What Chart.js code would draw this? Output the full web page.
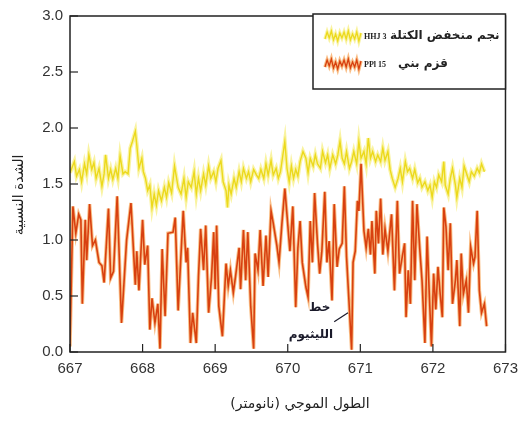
<!DOCTYPE html>
<html>
<head>
<meta charset="utf-8">
<script src="https://cdn.jsdelivr.net/npm/chart.js@4.4.1/dist/chart.umd.min.js"></script>
<style>
  html, body { margin: 0; padding: 0; background: #fff; }
  #wrap { width: 526px; height: 421px; }
</style>
</head>
<body>
<div id="wrap"><canvas id="spectrum" width="526" height="421"></canvas></div>
<script>
// wavelength (nm) / relative intensity
const starWl = [667.00, 667.06, 667.09, 667.13, 667.16, 667.20, 667.23, 667.26, 667.30, 667.33, 667.36, 667.40, 667.44, 667.47, 667.49, 667.53, 667.56, 667.59, 667.63, 667.66, 667.69, 667.73, 667.76, 667.80, 667.83, 667.86, 667.90, 667.92, 667.95, 667.99, 668.01, 668.04, 668.07, 668.10, 668.13, 668.16, 668.19, 668.22, 668.26, 668.30, 668.33, 668.36, 668.40, 668.44, 668.49, 668.53, 668.57, 668.60, 668.63, 668.67, 668.71, 668.74, 668.77, 668.80, 668.84, 668.87, 668.91, 668.94, 668.98, 669.01, 669.04, 669.08, 669.11, 669.15, 669.17, 669.19, 669.22, 669.26, 669.29, 669.33, 669.36, 669.39, 669.43, 669.46, 669.49, 669.53, 669.57, 669.60, 669.63, 669.67, 669.70, 669.73, 669.77, 669.80, 669.84, 669.87, 669.90, 669.94, 669.96, 669.99, 670.02, 670.05, 670.08, 670.11, 670.14, 670.17, 670.21, 670.25, 670.28, 670.31, 670.35, 670.38, 670.41, 670.45, 670.48, 670.52, 670.55, 670.58, 670.62, 670.66, 670.69, 670.72, 670.75, 670.78, 670.81, 670.85, 670.88, 670.91, 670.95, 670.98, 671.01, 671.05, 671.08, 671.11, 671.14, 671.17, 671.21, 671.24, 671.28, 671.31, 671.34, 671.38, 671.41, 671.44, 671.48, 671.52, 671.55, 671.58, 671.62, 671.65, 671.68, 671.72, 671.75, 671.79, 671.82, 671.85, 671.89, 671.93, 671.96, 671.99, 672.02, 672.05, 672.08, 672.12, 672.15, 672.17, 672.21, 672.24, 672.27, 672.31, 672.33, 672.37, 672.40, 672.43, 672.47, 672.50, 672.53, 672.57, 672.61, 672.64, 672.67, 672.71]
const starVals = [1.60, 1.70, 1.57, 1.63, 1.52, 1.68, 1.59, 1.76, 1.63, 1.69, 1.55, 1.64, 1.48, 1.59, 1.76, 1.55, 1.63, 1.54, 1.64, 1.55, 1.75, 1.59, 1.61, 1.59, 1.82, 1.88, 1.97, 1.85, 1.64, 1.73, 1.61, 1.55, 1.44, 1.49, 1.29, 1.41, 1.31, 1.44, 1.35, 1.47, 1.38, 1.51, 1.42, 1.66, 1.47, 1.41, 1.55, 1.38, 1.52, 1.47, 1.61, 1.41, 1.55, 1.44, 1.59, 1.49, 1.66, 1.55, 1.61, 1.52, 1.64, 1.71, 1.52, 1.44, 1.29, 1.49, 1.41, 1.55, 1.47, 1.61, 1.52, 1.64, 1.55, 1.61, 1.52, 1.63, 1.58, 1.55, 1.63, 1.55, 1.68, 1.58, 1.71, 1.58, 1.64, 1.55, 1.61, 1.79, 1.88, 1.64, 1.52, 1.66, 1.55, 1.63, 1.57, 1.70, 1.79, 1.73, 1.60, 1.73, 1.66, 1.76, 1.68, 1.64, 1.79, 1.69, 1.76, 1.64, 1.76, 1.68, 1.76, 1.88, 1.73, 1.68, 1.79, 1.64, 1.70, 1.79, 1.68, 1.88, 1.73, 1.79, 1.68, 1.91, 1.73, 1.79, 1.70, 1.76, 1.70, 1.82, 1.71, 1.79, 1.63, 1.55, 1.47, 1.55, 1.64, 1.52, 1.70, 1.61, 1.64, 1.55, 1.63, 1.51, 1.55, 1.47, 1.52, 1.44, 1.49, 1.38, 1.52, 1.47, 1.58, 1.52, 1.70, 1.49, 1.41, 1.55, 1.64, 1.49, 1.38, 1.55, 1.47, 1.66, 1.58, 1.52, 1.61, 1.57, 1.64, 1.60, 1.68, 1.61]

const dwarfWl = [667.00, 667.04, 667.08, 667.12, 667.15, 667.17, 667.21, 667.23, 667.27, 667.31, 667.35, 667.40, 667.44, 667.47, 667.53, 667.56, 667.60, 667.65, 667.71, 667.78, 667.84, 667.90, 667.92, 667.95, 668.00, 668.03, 668.07, 668.10, 668.13, 668.17, 668.21, 668.24, 668.27, 668.31, 668.35, 668.42, 668.45, 668.49, 668.56, 668.60, 668.62, 668.66, 668.69, 668.74, 668.77, 668.80, 668.84, 668.87, 668.91, 668.95, 668.98, 669.00, 669.02, 669.05, 669.10, 669.15, 669.18, 669.21, 669.25, 669.28, 669.33, 669.35, 669.39, 669.42, 669.45, 669.49, 669.53, 669.55, 669.59, 669.62, 669.66, 669.70, 669.73, 669.77, 669.80, 669.85, 669.88, 669.92, 669.96, 670.03, 670.07, 670.11, 670.14, 670.17, 670.20, 670.25, 670.28, 670.31, 670.34, 670.37, 670.41, 670.44, 670.47, 670.51, 670.54, 670.57, 670.61, 670.64, 670.68, 670.71, 670.75, 670.78, 670.81, 670.85, 670.88, 670.90, 670.93, 670.96, 670.98, 671.01, 671.05, 671.08, 671.11, 671.14, 671.16, 671.20, 671.22, 671.25, 671.28, 671.31, 671.34, 671.38, 671.43, 671.47, 671.51, 671.54, 671.57, 671.61, 671.63, 671.66, 671.69, 671.72, 671.75, 671.78, 671.82, 671.85, 671.89, 671.92, 671.95, 671.98, 672.01, 672.04, 672.07, 672.10, 672.13, 672.15, 672.18, 672.21, 672.24, 672.27, 672.31, 672.33, 672.37, 672.39, 672.42, 672.46, 672.49, 672.52, 672.56, 672.58, 672.61, 672.64, 672.67, 672.71, 672.74]
const dwarfVals = [0.05, 1.30, 1.06, 1.23, 1.18, 0.43, 1.18, 0.82, 1.32, 0.95, 1.00, 0.80, 0.77, 0.62, 1.28, 0.66, 0.72, 1.39, 0.26, 1.00, 1.33, 0.60, 0.90, 0.55, 1.18, 0.78, 0.95, 0.20, 0.48, 0.26, 0.43, 0.03, 0.92, 0.32, 1.06, 1.07, 1.20, 0.37, 1.26, 0.80, 0.93, 0.08, 0.35, 0.08, 0.67, 1.10, 0.73, 1.13, 0.35, 0.67, 1.07, 0.56, 1.13, 0.41, 0.14, 0.79, 0.59, 0.73, 0.53, 0.67, 0.93, 0.56, 1.09, 0.64, 1.07, 0.41, 0.03, 0.88, 0.73, 1.09, 0.59, 1.04, 0.67, 1.26, 1.15, 0.95, 0.80, 1.15, 1.46, 0.90, 1.30, 0.40, 0.93, 1.17, 0.80, 0.58, 0.49, 1.17, 0.80, 1.42, 0.97, 0.70, 0.90, 1.43, 0.80, 0.99, 0.46, 1.32, 0.76, 0.92, 0.97, 1.48, 0.85, 0.38, 0.02, 0.80, 0.90, 1.35, 1.26, 1.68, 1.08, 0.93, 1.10, 0.87, 1.17, 0.70, 1.26, 0.97, 1.37, 0.87, 1.10, 0.90, 1.23, 0.55, 1.35, 0.70, 0.82, 0.97, 0.31, 0.73, 0.43, 1.35, 0.64, 1.32, 0.91, 0.64, 0.08, 1.03, 0.52, 0.05, 0.70, 0.38, 0.76, 0.52, 0.31, 1.29, 1.12, 0.73, 1.15, 0.43, 0.64, 0.82, 0.23, 0.88, 0.52, 0.64, 0.35, 0.94, 0.79, 0.85, 1.26, 0.55, 0.35, 0.43, 0.23]

const xTicks = [667, 668, 669, 670, 671, 672, 673]
const yTicks = [0, 0.5, 1, 1.5, 2, 2.5, 3]

const seriesNames = ['نجم منخفض الكتلة', 'قزم بني']
const seriesIds = ['HHJ 3', 'PPl 15']
const xTitle = 'الطول الموجي (نانومتر)'
const yTitle = 'الشدة النسبية'
const lineLabel = ['خط', 'الليثيوم']

const yellow = '#ecd91c'
const yellowGlow = 'rgba(246,236,110,0.65)'
const orange = '#d8400f'
const orangeGlow = 'rgba(245,145,50,0.6)'
const arabicFont = '"DejaVu Sans", sans-serif'

const toPoints = (wl, vals) => wl.map((w, i) => ({ x: w, y: vals[i] }))
const starPts = toPoints(starWl, starVals)
const dwarfPts = toPoints(dwarfWl, dwarfVals)

function wiggle(ctx, x0, x1, yc, color, glow) {
    const amp = [3, -4, 2, -5, 4, -2, 5, -3, 2, -4, 3, -5, 4, -2, 3, -4, 5, -3]
    const step = (x1 - x0) / (amp.length - 1)
    ;[[glow, 3.5], [color, 1.3]].forEach(([c, w]) => {
        ctx.strokeStyle = c
        ctx.lineWidth = w
        ctx.beginPath()
        amp.forEach((a, i) => {
            const x = x0 + i * step
            if (i === 0) ctx.moveTo(x, yc + a)
            else ctx.lineTo(x, yc + a)
        })
        ctx.stroke()
    })
}

const decorations = {
    id: 'decorations',
    afterDraw(chart) {
        const { ctx, chartArea: a, scales } = chart
        ctx.save()
        ctx.strokeStyle = '#222'
        ctx.lineWidth = 1.5
        ctx.strokeRect(a.left, a.top, a.right - a.left, a.bottom - a.top)

        // inward tick marks
        ctx.lineWidth = 1.2
        xTicks.forEach(v => {
            const x = scales.x.getPixelForValue(v)
            ctx.beginPath(); ctx.moveTo(x, a.bottom); ctx.lineTo(x, a.bottom - 8); ctx.stroke()
        })
        yTicks.forEach(v => {
            const y = scales.y.getPixelForValue(v)
            ctx.beginPath(); ctx.moveTo(a.left, y); ctx.lineTo(a.left + 8, y); ctx.stroke()
        })

        // axis titles
        ctx.fillStyle = '#222'
        ctx.textAlign = 'center'
        ctx.textBaseline = 'middle'
        ctx.font = '14px ' + arabicFont
        ctx.fillText(xTitle, 300, 404)
        ctx.save()
        ctx.translate(19, 195)
        ctx.rotate(-Math.PI / 2)
        ctx.fillText(yTitle, 0, 0)
        ctx.restore()

        // legend box
        ctx.fillStyle = '#fff'
        ctx.fillRect(313, 14, a.right - 313, 75)
        ctx.strokeStyle = '#222'
        ctx.lineWidth = 1.5
        ctx.strokeRect(313, 14, a.right - 313, 75)
        wiggle(ctx, 325, 361, 36, yellow, yellowGlow)
        wiggle(ctx, 325, 361, 64, orange, orangeGlow)
        ctx.fillStyle = '#222'
        ctx.textAlign = 'left'
        ctx.font = 'bold 8px "Liberation Serif", serif'
        ctx.fillText(seriesIds[0], 364, 37)
        ctx.fillText(seriesIds[1], 364, 65)
        ctx.font = 'bold 12px ' + arabicFont
        ctx.fillText(seriesNames[0], 390, 36)
        ctx.fillText(seriesNames[1], 398, 64)

        // lithium line note
        ctx.fillStyle = '#1a1a2a'
        ctx.textAlign = 'center'
        ctx.font = 'bold 12px ' + arabicFont
        ctx.fillText(lineLabel[0], scales.x.getPixelForValue(670.44), scales.y.getPixelForValue(0.39))
        ctx.fillText(lineLabel[1], scales.x.getPixelForValue(670.32), scales.y.getPixelForValue(0.15))
        ctx.strokeStyle = '#1a1a2a'
        ctx.lineWidth = 1.2
        ctx.beginPath()
        ctx.moveTo(scales.x.getPixelForValue(670.64), scales.y.getPixelForValue(0.27))
        ctx.lineTo(scales.x.getPixelForValue(670.83), scales.y.getPixelForValue(0.35))
        ctx.stroke()
        ctx.restore()
    }
}

new Chart(document.getElementById('spectrum').getContext('2d'), {
    type: 'line',
    data: {
        datasets: [
            { data: starPts, borderColor: yellowGlow, borderWidth: 4, order: 4 },
            { data: starPts, borderColor: yellow, borderWidth: 1.4, order: 3 },
            { data: dwarfPts, borderColor: orangeGlow, borderWidth: 3.5, order: 2 },
            { data: dwarfPts, borderColor: orange, borderWidth: 1.6, order: 1 }
        ]
    },
    options: {
        responsive: false,
        animation: false,
        layout: { padding: { left: 0, right: 16, top: 14, bottom: 0 } },
        elements: { point: { radius: 0 }, line: { tension: 0 } },
        plugins: { legend: { display: false }, tooltip: { enabled: false } },
        scales: {
            x: {
                type: 'linear',
                min: 667,
                max: 673,
                afterFit: s => { s.height = 69 },
                afterBuildTicks: s => { s.ticks = xTicks.map(v => ({ value: v })) },
                grid: { display: false, drawTicks: false },
                border: { display: false },
                ticks: { padding: 8, color: '#333', font: { family: '"Liberation Sans", Arial', size: 15 } }
            },
            y: {
                min: 0,
                max: 3,
                afterFit: s => { s.width = 70 },
                afterBuildTicks: s => { s.ticks = yTicks.map(v => ({ value: v })) },
                grid: { display: false, drawTicks: false },
                border: { display: false },
                ticks: {
                    padding: 7,
                    color: '#333',
                    font: { family: '"Liberation Sans", Arial', size: 15 },
                    callback: v => v.toFixed(1)
                }
            }
        }
    },
    plugins: [decorations]
})
</script>
</body>
</html>
